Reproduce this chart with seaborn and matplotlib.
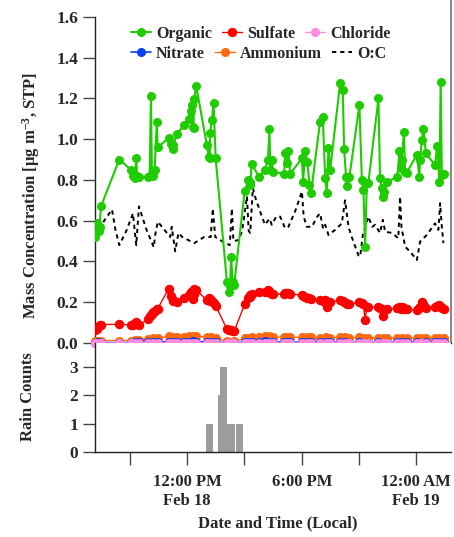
import matplotlib
matplotlib.use("Agg")
import matplotlib.pyplot as plt
import seaborn as sns
import numpy as np

# ---------------- data (hours since midnight Feb 18, local) ----------------
organic_hours = [7.18, 7.27, 7.36, 7.41, 7.48, 8.44, 9.05, 9.16, 9.25, 9.33, 9.37, 9.50,
                 9.96, 10.03, 10.10, 10.15, 10.22, 10.29, 10.41, 10.45, 11.02, 11.14, 11.23,
                 11.28, 11.46, 11.84, 12.07, 12.18, 12.25, 12.30, 12.33, 12.37, 12.47, 13.03,
                 13.12, 13.18, 13.20, 13.29, 13.38, 13.49, 14.08, 14.21, 14.25, 14.30, 14.38,
                 14.46, 15.01, 15.21, 15.27, 15.31, 15.37, 15.77, 16.08, 16.23, 16.31, 16.35,
                 16.43, 16.48, 17.08, 17.13, 17.22, 17.30, 17.39, 18.01, 18.07, 18.18, 18.30,
                 18.40, 18.49, 18.96, 19.10, 19.23, 19.31, 19.40, 19.49, 20.01, 20.15, 20.22,
                 20.32, 20.39, 20.50, 21.02, 21.15, 21.23, 21.32, 21.41, 21.49, 22.02, 22.10,
                 22.19, 22.28, 22.31, 22.46, 23.01, 23.12, 23.19, 23.23, 23.36, 23.41, 23.50,
                 24.03, 24.16, 24.20, 24.29, 24.37, 24.51, 24.98, 25.10, 25.21, 25.28, 25.34,
                 25.46]
organic = [0.52, 0.587, 0.55, 0.57, 0.67, 0.90, 0.85, 0.82, 0.81, 0.91, 0.82, 0.815,
           0.815, 0.82, 1.21, 0.83, 0.82, 0.85, 1.086, 0.96, 1.005, 0.975, 0.95,
           0.97, 1.026, 1.07, 1.10, 1.14, 1.168, 1.06, 1.057, 1.196, 1.262, 0.97,
           0.915, 0.91, 1.03, 1.095, 1.18, 0.906, 0.30, 0.25, 0.28, 0.42, 0.30,
           0.285, 0.745, 0.80, 0.79, 0.775, 0.878, 0.816, 0.85, 0.898, 1.05, 0.85,
           0.90, 0.84, 0.83, 0.93, 0.885, 0.94, 0.83, 0.906, 0.79, 0.94, 0.89,
           0.775, 0.738, 1.086, 1.11, 0.81, 0.735, 0.955, 0.85, 1.275, 1.24, 0.952,
           0.816, 0.77, 0.816, 1.168, 0.80, 0.75, 0.473, 0.784, 0.787, 1.20, 0.808,
           0.76, 0.718, 0.743, 0.79, 0.816, 0.94, 0.857, 0.898, 1.037, 0.84, 0.836,
           0.923, 0.816, 0.898, 0.996, 1.049, 0.93, 0.873, 0.967, 0.79, 1.282, 0.825,
           0.83]
sulfate = [0.065, 0.07, 0.085, 0.088, 0.09, 0.092, 0.088, 0.09, 0.10, 0.105, 0.095, 0.088,
           0.12, 0.13, 0.135, 0.14, 0.15, 0.158, 0.165, 0.168, 0.265, 0.23, 0.21,
           0.205, 0.203, 0.22, 0.235, 0.25, 0.252, 0.215, 0.24, 0.265, 0.26, 0.21,
           0.22, 0.215, 0.205, 0.205, 0.195, 0.183, 0.068, 0.065, 0.062, 0.062, 0.06,
           0.058, 0.19, 0.22, 0.225, 0.235, 0.24, 0.248, 0.25, 0.26, 0.255, 0.245,
           0.24, 0.24, 0.24, 0.245, 0.245, 0.245, 0.24, 0.235, 0.23, 0.225, 0.22,
           0.22, 0.215, 0.21, 0.205, 0.21, 0.175, 0.20, 0.20, 0.21, 0.205, 0.20,
           0.195, 0.19, 0.19, 0.20, 0.195, 0.19, 0.113, 0.178, 0.175, 0.175, 0.17,
           0.165, 0.13, 0.16, 0.165, 0.17, 0.175, 0.165, 0.178, 0.17, 0.168, 0.165,
           0.16, 0.17, 0.175, 0.20, 0.19, 0.17, 0.175, 0.18, 0.186, 0.175, 0.17,
           0.165]

minor_hours = [7.18, 7.35, 7.48, 8.44, 9.05, 9.25, 9.45, 9.96, 10.2, 10.45, 11.02, 11.25,
               11.46, 11.84, 12.07, 12.3, 12.47, 13.03, 13.25, 13.49, 14.08, 14.27, 14.46,
               15.01, 15.2, 15.37, 15.77, 16.08, 16.3, 16.48, 17.08, 17.25, 17.39, 18.01,
               18.25, 18.49, 18.96, 19.25, 19.49, 20.01, 20.25, 20.5, 21.02, 21.25, 21.49,
               22.02, 22.25, 22.46, 23.01, 23.25, 23.5, 24.03, 24.27, 24.51, 24.98, 25.2,
               25.46]
ammonium = [0.01, 0.012, 0.012, 0.012, 0.012, 0.015, 0.014, 0.02, 0.022, 0.025, 0.032, 0.03,
            0.03, 0.03, 0.032, 0.034, 0.033, 0.03, 0.028, 0.026, 0.008, 0.007, 0.008,
            0.022, 0.026, 0.028, 0.03, 0.032, 0.033, 0.03, 0.028, 0.03, 0.028, 0.028,
            0.029, 0.027, 0.026, 0.028, 0.026, 0.027, 0.028, 0.026, 0.027, 0.025, 0.026,
            0.026, 0.025, 0.024, 0.025, 0.024, 0.023, 0.024, 0.025, 0.023, 0.024, 0.023,
            0.022]
nitrate = [0.002, 0.003, 0.002, 0.001, 0.002, 0.004, 0.003, 0.005, 0.006, 0.005, 0.006, 0.007,
           0.005, 0.004, 0.006, 0.008, 0.006, 0.005, 0.006, 0.004, 0.001, 0.0, 0.001,
           0.003, 0.005, 0.004, 0.006, 0.008, 0.007, 0.005, 0.004, 0.006, 0.003, 0.004,
           0.007, 0.006, 0.005, 0.004, 0.003, 0.004, 0.006, 0.002, 0.003, 0.001, 0.002,
           0.003, 0.001, 0.002, 0.004, 0.003, 0.004, 0.005, 0.002, 0.004, 0.006, 0.003,
           0.004]
chloride = [0.0, 0.001, 0.0, 0.0, 0.001, 0.0, 0.0, 0.0, 0.001, 0.0, 0.001, 0.0,
            0.0, 0.001, 0.0, 0.0, 0.001, 0.0, 0.0, 0.001, 0.0, 0.0, 0.0,
            0.0, 0.001, 0.0, 0.0, 0.001, 0.0, 0.0, 0.0, 0.001, 0.0, 0.0,
            0.001, 0.0, 0.0, 0.0, 0.001, 0.0, 0.0, 0.001, 0.0, 0.0, 0.0,
            0.001, 0.0, 0.0, 0.0, 0.001, 0.0, 0.0, 0.001, 0.0, 0.0, 0.0,
            0.0]

oc_hours = [7.18, 7.27, 7.39, 7.65, 8.06, 8.23, 8.44, 8.81, 9.16, 9.25, 9.33, 9.47, 9.85,
            10.25, 10.32, 10.46, 10.85, 11.11, 11.19, 11.37, 11.54, 11.74, 12.37, 12.89,
            13.23, 13.34, 13.47, 13.86, 14.23, 14.34, 14.42, 14.69, 14.88, 15.13, 15.22,
            15.30, 15.44, 15.61, 15.73, 15.91, 16.08, 16.31, 16.43, 16.66, 16.87, 17.13,
            17.30, 17.65, 18.01, 18.10, 18.27, 18.53, 18.81, 18.96, 19.12, 19.23, 19.40,
            19.75, 20.10, 20.27, 20.45, 20.62, 20.97, 21.06, 21.20, 21.49, 21.69, 21.84,
            22.10, 22.25, 22.37, 22.72, 23.06, 23.15, 23.23, 23.33, 23.41, 23.68, 24.03,
            24.20, 24.55, 24.98, 25.16, 25.25, 25.33, 25.42]
oc_ratio = [0.50, 0.59, 0.56, 0.60, 0.655, 0.56, 0.48, 0.55, 0.636, 0.55, 0.48, 0.67, 0.56,
            0.47, 0.53, 0.595, 0.55, 0.52, 0.57, 0.45, 0.54, 0.52, 0.49, 0.52,
            0.52, 0.66, 0.52, 0.497, 0.48, 0.66, 0.50, 0.505, 0.55, 0.72, 0.55,
            0.54, 0.76, 0.70, 0.67, 0.62, 0.58, 0.61, 0.58, 0.62, 0.62, 0.563,
            0.57, 0.645, 0.743, 0.62, 0.57, 0.57, 0.62, 0.636, 0.56, 0.58, 0.53,
            0.555, 0.587, 0.70, 0.57, 0.52, 0.43, 0.424, 0.53, 0.62, 0.57, 0.58,
            0.54, 0.604, 0.546, 0.54, 0.514, 0.718, 0.56, 0.52, 0.473, 0.448, 0.407,
            0.497, 0.53, 0.587, 0.555, 0.686, 0.58, 0.49]

rain_start_hours = [12.98, 13.62, 13.73, 14.08, 14.13, 14.57]
rain_counts = [1, 2, 3, 1, 1, 1]
rain_bin_hours = 0.35

tick_hours = [9, 12, 15, 18, 21, 24]
tick_labels = ["", "12:00 PM\nFeb 18", "", "6:00 PM", "", "12:00 AM\nFeb 19"]

legend_row1 = ['Organic', 'Sulfate', 'Chloride']
legend_row2 = ['Nitrate', 'Ammonium', 'O:C']

# ---------------- style ----------------
sns.set_theme(style="ticks")
plt.rcParams['font.family'] = ['Liberation Serif', 'DejaVu Serif']
plt.rcParams['font.weight'] = 'bold'
plt.rcParams['axes.labelweight'] = 'bold'
plt.rcParams['font.size'] = 12
plt.rcParams['mathtext.fontset'] = 'custom'
plt.rcParams['mathtext.rm'] = 'Liberation Serif:bold'
plt.rcParams['mathtext.it'] = 'Liberation Serif:italic:bold'
plt.rcParams['mathtext.bf'] = 'Liberation Serif:bold'
plt.rcParams['mathtext.default'] = 'rm'

FS = 12
fig = plt.figure(figsize=(4.54, 5.37), dpi=100)
ax1 = fig.add_axes([0.2093, 0.3613, 0.7841, 0.6387])
ax2 = fig.add_axes([0.2093, 0.1583, 0.7841, 0.2030], sharex=ax1)

common = dict(ax=ax1, sort=False, estimator=None, marker='o')

sns.lineplot(x=oc_hours, y=oc_ratio, ax=ax1, sort=False, estimator=None, color='black',
             lw=1.4, linestyle=(0, (2.2, 2.0)), label='O:C', zorder=2)
sns.lineplot(x=minor_hours, y=ammonium, color='#FF6A10', lw=1.0, markersize=6.5,
             markeredgewidth=0, label='Ammonium', clip_on=False, zorder=3, **common)
sns.lineplot(x=minor_hours, y=nitrate, color='#0A3CF0', lw=1.2, markersize=6.5,
             markeredgewidth=0, label='Nitrate', clip_on=False, zorder=4, **common)
sns.lineplot(x=minor_hours, y=chloride, color='#FF8CE0', lw=1.0, markersize=6.5,
             markeredgewidth=0, label='Chloride', clip_on=False, zorder=5, **common)
sns.lineplot(x=organic_hours, y=sulfate, color='#FF0000', lw=1.0, markersize=6.8,
             markeredgewidth=0, label='Sulfate', zorder=6, **common)
sns.lineplot(x=organic_hours, y=organic, color='#1ECC00', lw=1.5, markersize=6.5,
             markeredgewidth=0, label='Organic', zorder=7, **common)

ax2.bar(rain_start_hours, rain_counts, width=rain_bin_hours, align='edge',
        color='#9C9C9C', edgecolor='none')

# ---------------- axes formatting ----------------
ax1.set_xlim(7.17, 25.82)
ax1.set_ylim(0, 1.683)
ax1.set_yticks(np.arange(0, 1.61, 0.2))
ax1.set_yticklabels([f"{v:.1f}" for v in np.arange(0, 1.61, 0.2)])
ax1.spines['left'].set_bounds(0, 1.6)
ax1.spines['top'].set_visible(False)
ax1.spines['right'].set_color('#8a8a8a')
ax1.spines['right'].set_linewidth(1.5)
for s in ['left', 'bottom']:
    ax1.spines[s].set_color('#222222')
    ax1.spines[s].set_linewidth(1.0)
ax1.tick_params(axis='y', direction='out', length=9, width=1, pad=3, labelsize=12.5,
                color='#444444')
ax1.tick_params(axis='x', bottom=False, labelbottom=False)
ax1.set_xlabel('')
ax1.set_ylabel('Mass Concentration [μg m$^{-3}$, STP]', fontsize=FS, fontweight='bold')
ax1.yaxis.set_label_coords(-0.15, 0.431)

ax2.set_ylim(0, 3.85)
ax2.set_yticks([0, 1, 2, 3])
ax2.set_yticklabels(['0', '1', '2', '3'])
ax2.set_xticks(tick_hours)
ax2.set_xticklabels(tick_labels)
ax2.spines['top'].set_visible(False)
ax2.spines['right'].set_visible(False)
for s in ['left', 'bottom']:
    ax2.spines[s].set_color('#222222')
    ax2.spines[s].set_linewidth(1.0)
ax2.tick_params(axis='both', direction='out', length=9, width=1, labelsize=FS,
                color='#444444')
ax2.tick_params(axis='y', pad=3, labelsize=12.5)
ax2.tick_params(axis='x', pad=7)
ax2.set_ylabel('Rain Counts', fontsize=FS, fontweight='bold')
ax2.yaxis.set_label_coords(-0.165, 0.505)
ax2.set_xlabel('Date and Time (Local)', fontsize=FS, fontweight='bold')
ax2.xaxis.set_label_coords(0.513, -0.58)
for lab in ax1.get_yticklabels() + ax2.get_yticklabels() + ax2.get_xticklabels():
    lab.set_fontweight('bold')

# legend: two free-flowing rows
handles, labels = ax1.get_legend_handles_labels()
hmap = dict(zip(labels, handles))
leg_kw = dict(ncol=3, loc='upper left', frameon=False, handlelength=1.25,
              handletextpad=0.35, columnspacing=0.6, borderpad=0, borderaxespad=0,
              prop={'size': 11.5, 'weight': 'bold'})
leg1 = ax1.legend([hmap[k] for k in legend_row1], legend_row1,
                  bbox_to_anchor=(0.1, 0.925), **leg_kw)
ax1.add_artist(leg1)
ax1.legend([hmap[k] for k in legend_row2], legend_row2,
           bbox_to_anchor=(0.1, 0.866), **leg_kw)

fig.savefig('out.png', dpi=100)
